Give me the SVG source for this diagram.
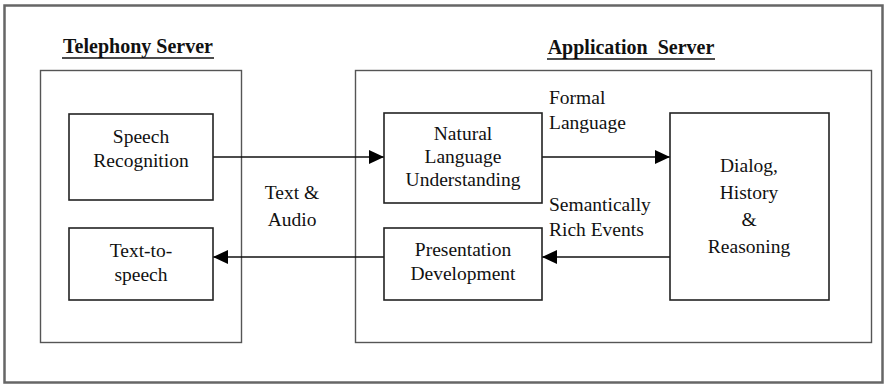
<svg xmlns="http://www.w3.org/2000/svg" width="887" height="385" viewBox="0 0 887 385">
  <defs>
    <marker id="arrow" viewBox="0 0 15 14" refX="15" refY="7" markerWidth="15" markerHeight="14" markerUnits="userSpaceOnUse" orient="auto">
      <path d="M0,0 L15,7 L0,14 Z" fill="#000"/>
    </marker>
  </defs>
  <style>
    .title { font-weight: bold; text-anchor: middle; white-space: pre; }
    .frame { fill: none; stroke: #666; stroke-width: 2.5; }
    .server { fill: none; stroke: #555; stroke-width: 1.4; }
    .box { fill: #fff; stroke: #222; stroke-width: 1.6; }
    .lbl { text-anchor: middle; }
    .conn { fill: none; stroke: #111; stroke-width: 1.6; }
    .ul { stroke: #111; stroke-width: 1.6; }
  </style>

  <!-- outer border -->
  <rect class="frame" x="4.5" y="5.5" width="878" height="377"/>

  <g font-family="'Liberation Serif', serif" fill="#111">
  <g id="telephony-server">
    <rect class="server" x="40.5" y="70.5" width="201" height="272"/>
    <text class="title" x="138" y="53" font-size="20">Telephony Server</text>
    <line class="ul" x1="62" y1="58" x2="214" y2="58"/>
  </g>

  <g id="application-server">
    <rect class="server" x="355.5" y="70.5" width="516" height="272"/>
    <text class="title" x="631" y="54" font-size="20">Application  Server</text>
    <line class="ul" x1="547" y1="59" x2="715" y2="59"/>
  </g>

  <g id="connectors">
    <line class="conn" x1="213" y1="157" x2="384" y2="157" marker-end="url(#arrow)"/>
    <line class="conn" x1="542" y1="157" x2="670" y2="157" marker-end="url(#arrow)"/>
    <line class="conn" x1="670" y1="257" x2="542" y2="257" marker-end="url(#arrow)"/>
    <line class="conn" x1="384" y1="257" x2="213" y2="257" marker-end="url(#arrow)"/>
    <text class="lbl" x="292" y="199" font-size="19.5">Text &amp;</text>
    <text class="lbl" x="292" y="226" font-size="19.5">Audio</text>
    <text x="549" y="104" font-size="19.5">Formal</text>
    <text x="549" y="129" font-size="19.5">Language</text>
    <text x="549" y="211" font-size="19.5">Semantically</text>
    <text x="549" y="236" font-size="19.5">Rich Events</text>
  </g>

  <g id="speech-recognition">
    <rect class="box" x="69" y="114" width="144" height="86"/>
    <text class="lbl" x="141" y="143" font-size="19.5">Speech</text>
    <text class="lbl" x="141" y="167" font-size="19.5">Recognition</text>
  </g>

  <g id="text-to-speech">
    <rect class="box" x="69" y="228" width="144" height="72"/>
    <text class="lbl" x="141" y="257" font-size="19.5">Text-to-</text>
    <text class="lbl" x="141" y="281" font-size="19.5">speech</text>
  </g>

  <g id="natural-language-understanding">
    <rect class="box" x="384" y="113" width="158" height="90"/>
    <text class="lbl" x="463" y="140" font-size="19.5">Natural</text>
    <text class="lbl" x="463" y="163" font-size="19.5">Language</text>
    <text class="lbl" x="463" y="186" font-size="19.5">Understanding</text>
  </g>

  <g id="presentation-development">
    <rect class="box" x="384" y="228" width="158" height="72"/>
    <text class="lbl" x="463" y="256" font-size="19.5">Presentation</text>
    <text class="lbl" x="463" y="280" font-size="19.5">Development</text>
  </g>

  <g id="dialog-history-reasoning">
    <rect class="box" x="670" y="113" width="159" height="187"/>
    <text class="lbl" x="749" y="172" font-size="19.5">Dialog,</text>
    <text class="lbl" x="749" y="199" font-size="19.5">History</text>
    <text class="lbl" x="749" y="226" font-size="19.5">&amp;</text>
    <text class="lbl" x="749" y="253" font-size="19.5">Reasoning</text>
  </g>
  </g>
</svg>
